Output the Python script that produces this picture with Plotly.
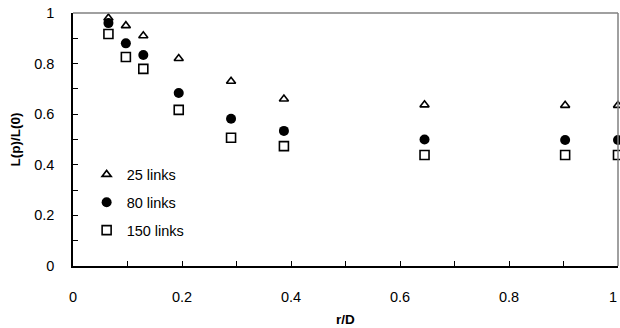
import plotly.graph_objects as go

x_vals = [0.065, 0.097, 0.129, 0.194, 0.290, 0.387, 0.645, 0.903, 1.0]
links25 = [0.98, 0.95, 0.91, 0.82, 0.73, 0.66, 0.637, 0.635, 0.635]
links80 = [0.96, 0.88, 0.834, 0.684, 0.582, 0.534, 0.50, 0.498, 0.498]
links150 = [0.917, 0.826, 0.779, 0.617, 0.507, 0.474, 0.439, 0.439, 0.439]
x_tick_vals = [0, 0.2, 0.4, 0.6, 0.8, 1.0]
x_tick_text = ["0", "0.2", "0.4", "0.6", "0.8", "1"]

series = [
    ("25 links", links25, dict(symbol="triangle-up-open", size=8, color="black", line=dict(width=1.6, color="black"))),
    ("80 links", links80, dict(symbol="circle", size=10, color="black", line=dict(width=0))),
    ("150 links", links150, dict(symbol="square-open", size=9, color="black", line=dict(width=1.6, color="black"))),
]

font = "Liberation Sans, Arial, sans-serif"
fig = go.Figure()
for i, (name, ys, mk) in enumerate(series):
    fig.add_trace(go.Scatter(x=x_vals, y=ys, mode="markers", name=name, marker=mk,
                             cliponaxis=False, legendgroup=f"g{i}"))

axis_common = dict(
    showgrid=False, zeroline=False, showline=True, linecolor="black", linewidth=1.5,
    ticks="inside", ticklen=5, tickcolor="black", tickwidth=1, automargin=False,
    tickfont=dict(family=font, size=14.5, color="black"), ticklabeloverflow="allow",
    minor=dict(ticks="inside", ticklen=5, dtick=0.1, tickcolor="black", tickwidth=1, showgrid=False),
    range=[0, 1],
)

# last x tick label is placed right-aligned at the axis end so it stays inside the page
shown_text = x_tick_text[:-1] + [""]

fig.update_layout(
    width=620, height=328,
    margin=dict(l=73, r=2, t=13, b=62),
    paper_bgcolor="white", plot_bgcolor="white",
    font=dict(family=font, color="black"),
    xaxis=dict(**axis_common, ticklabelstandoff=17, tickmode="array",
               tickvals=x_tick_vals, ticktext=shown_text,
               title=dict(text="<b>r/D</b>", font=dict(family=font, size=13.5), standoff=10)),
    yaxis=dict(**axis_common, ticklabelstandoff=14, dtick=0.2, tick0=0,
               title=dict(text="<b>L(p)/L(0)</b>", font=dict(family=font, size=13.5), standoff=10)),
    showlegend=True,
    legend=dict(x=0.025, y=0.425, xanchor="left", yanchor="top", bgcolor="rgba(0,0,0,0)",
                font=dict(family=font, size=14.5), itemwidth=30, tracegroupgap=6),
    shapes=[
        dict(type="line", xref="paper", yref="paper", x0=0, x1=1, y0=1, y1=1, line=dict(color="#808080", width=1.5)),
        dict(type="line", xref="paper", yref="paper", x0=1, x1=1, y0=0, y1=1, line=dict(color="#808080", width=1.5)),
    ],
    annotations=[
        dict(text=x_tick_text[-1], xref="paper", yref="paper", x=1, y=0,
             xanchor="right", yanchor="top", yshift=-21, xshift=1, showarrow=False,
             font=dict(family=font, size=14.5, color="black")),
    ],
)

fig.write_html("out.html", config={"displayModeBar": False},
               post_script="document.body.style.margin='0px';")
